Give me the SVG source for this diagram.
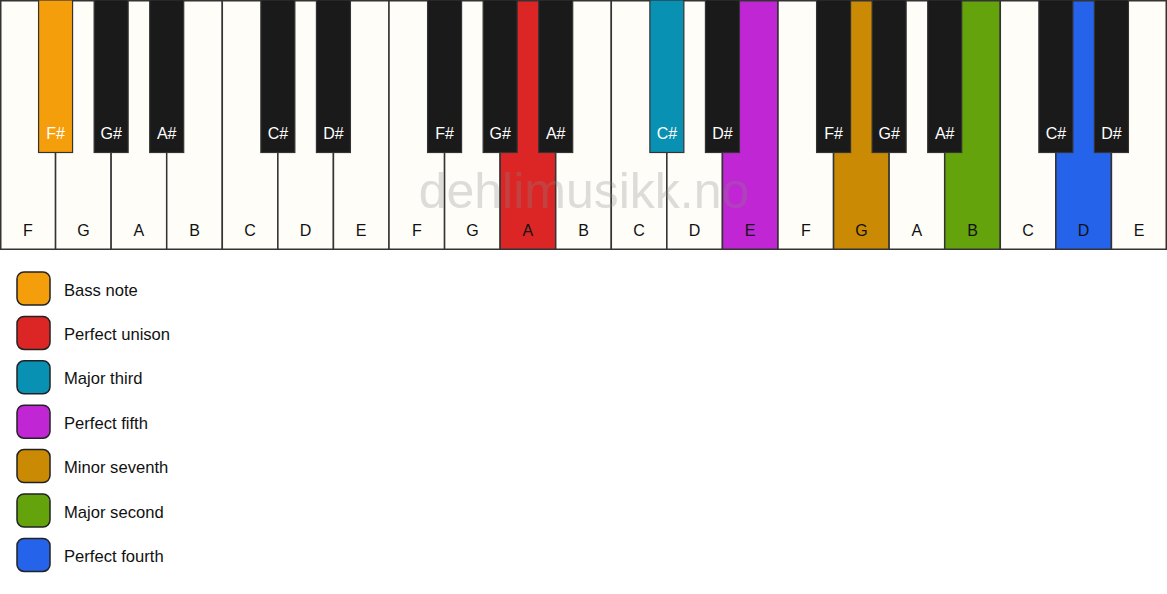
<svg xmlns="http://www.w3.org/2000/svg" width="1167" height="594" viewBox="0 0 1167 594">
<style>
.w{fill:#fffdf8;stroke:#333;stroke-width:1.5}
.b{fill:#1a1a1a;stroke:#333;stroke-width:1.2}
.wl{font-family:"Liberation Sans",Arial,sans-serif;font-size:16px;fill:#111;text-anchor:middle}
.bl{font-family:"Liberation Sans",Arial,sans-serif;font-size:16px;fill:#fff;text-anchor:middle}
.lg{stroke:#222;stroke-width:1.5}
.lt{font-family:"Liberation Sans",Arial,sans-serif;font-size:16.6px;fill:#111}
.wm{font-family:"Liberation Sans",Arial,sans-serif;font-size:50px;fill:#888;opacity:0.28;text-anchor:middle}
</style>
<rect width="1167" height="594" fill="#ffffff"/>
<g id="white-keys">
<rect class="w" x="0.75" y="0.75" width="54.82" height="248.5"/>
<rect class="w" x="55.57" y="0.75" width="55.57" height="248.5"/>
<rect class="w" x="111.14" y="0.75" width="55.57" height="248.5"/>
<rect class="w" x="166.71" y="0.75" width="55.57" height="248.5"/>
<rect class="w" x="222.29" y="0.75" width="55.57" height="248.5"/>
<rect class="w" x="277.86" y="0.75" width="55.57" height="248.5"/>
<rect class="w" x="333.43" y="0.75" width="55.57" height="248.5"/>
<rect class="w" x="389" y="0.75" width="55.57" height="248.5"/>
<rect class="w" x="444.57" y="0.75" width="55.57" height="248.5"/>
<rect class="w" x="500.14" y="0.75" width="55.57" height="248.5" style="fill:#dc2626"/>
<rect class="w" x="555.71" y="0.75" width="55.57" height="248.5"/>
<rect class="w" x="611.29" y="0.75" width="55.57" height="248.5"/>
<rect class="w" x="666.86" y="0.75" width="55.57" height="248.5"/>
<rect class="w" x="722.43" y="0.75" width="55.57" height="248.5" style="fill:#c026d3"/>
<rect class="w" x="778" y="0.75" width="55.57" height="248.5"/>
<rect class="w" x="833.57" y="0.75" width="55.57" height="248.5" style="fill:#ca8a04"/>
<rect class="w" x="889.14" y="0.75" width="55.57" height="248.5"/>
<rect class="w" x="944.71" y="0.75" width="55.57" height="248.5" style="fill:#65a30d"/>
<rect class="w" x="1000.29" y="0.75" width="55.57" height="248.5"/>
<rect class="w" x="1055.86" y="0.75" width="55.57" height="248.5" style="fill:#2563eb"/>
<rect class="w" x="1111.43" y="0.75" width="54.82" height="248.5"/>
</g>
<g id="white-labels">
<text class="wl" x="27.8" y="236">F</text>
<text class="wl" x="83.4" y="236">G</text>
<text class="wl" x="138.9" y="236">A</text>
<text class="wl" x="194.5" y="236">B</text>
<text class="wl" x="250.1" y="236">C</text>
<text class="wl" x="305.6" y="236">D</text>
<text class="wl" x="361.2" y="236">E</text>
<text class="wl" x="416.8" y="236">F</text>
<text class="wl" x="472.4" y="236">G</text>
<text class="wl" x="527.9" y="236">A</text>
<text class="wl" x="583.5" y="236">B</text>
<text class="wl" x="639.1" y="236">C</text>
<text class="wl" x="694.6" y="236">D</text>
<text class="wl" x="750.2" y="236">E</text>
<text class="wl" x="805.8" y="236">F</text>
<text class="wl" x="861.4" y="236">G</text>
<text class="wl" x="916.9" y="236">A</text>
<text class="wl" x="972.5" y="236">B</text>
<text class="wl" x="1028.1" y="236">C</text>
<text class="wl" x="1083.6" y="236">D</text>
<text class="wl" x="1139.2" y="236">E</text>
</g>
<g id="black-keys">
<rect class="b" x="38.57" y="0" width="34" height="152.5" style="fill:#f59e0b"/>
<rect class="b" x="94.14" y="0" width="34" height="152.5"/>
<rect class="b" x="149.71" y="0" width="34" height="152.5"/>
<rect class="b" x="260.86" y="0" width="34" height="152.5"/>
<rect class="b" x="316.43" y="0" width="34" height="152.5"/>
<rect class="b" x="427.57" y="0" width="34" height="152.5"/>
<rect class="b" x="483.14" y="0" width="34" height="152.5"/>
<rect class="b" x="538.71" y="0" width="34" height="152.5"/>
<rect class="b" x="649.86" y="0" width="34" height="152.5" style="fill:#0891b2"/>
<rect class="b" x="705.43" y="0" width="34" height="152.5"/>
<rect class="b" x="816.57" y="0" width="34" height="152.5"/>
<rect class="b" x="872.14" y="0" width="34" height="152.5"/>
<rect class="b" x="927.71" y="0" width="34" height="152.5"/>
<rect class="b" x="1038.86" y="0" width="34" height="152.5"/>
<rect class="b" x="1094.43" y="0" width="34" height="152.5"/>
</g>
<g id="black-labels">
<text class="bl" x="55.57" y="139">F#</text>
<text class="bl" x="111.14" y="139">G#</text>
<text class="bl" x="166.71" y="139">A#</text>
<text class="bl" x="277.86" y="139">C#</text>
<text class="bl" x="333.43" y="139">D#</text>
<text class="bl" x="444.57" y="139">F#</text>
<text class="bl" x="500.14" y="139">G#</text>
<text class="bl" x="555.71" y="139">A#</text>
<text class="bl" x="666.86" y="139">C#</text>
<text class="bl" x="722.43" y="139">D#</text>
<text class="bl" x="833.57" y="139">F#</text>
<text class="bl" x="889.14" y="139">G#</text>
<text class="bl" x="944.71" y="139">A#</text>
<text class="bl" x="1055.86" y="139">C#</text>
<text class="bl" x="1111.43" y="139">D#</text>
</g>
<text id="watermark" class="wm" x="584" y="208">dehlimusikk.no</text>
<g id="legend">
<g id="leg-bass"><rect class="lg" x="17" y="272" width="33" height="33" rx="7" fill="#f59e0b"/><text class="lt" x="64" y="295.5">Bass note</text></g>
<g id="leg-unison"><rect class="lg" x="17" y="316.4" width="33" height="33" rx="7" fill="#dc2626"/><text class="lt" x="64" y="339.9">Perfect unison</text></g>
<g id="leg-third"><rect class="lg" x="17" y="360.8" width="33" height="33" rx="7" fill="#0891b2"/><text class="lt" x="64" y="384.3">Major third</text></g>
<g id="leg-fifth"><rect class="lg" x="17" y="405.2" width="33" height="33" rx="7" fill="#c026d3"/><text class="lt" x="64" y="428.7">Perfect fifth</text></g>
<g id="leg-seventh"><rect class="lg" x="17" y="449.6" width="33" height="33" rx="7" fill="#ca8a04"/><text class="lt" x="64" y="473.1">Minor seventh</text></g>
<g id="leg-second"><rect class="lg" x="17" y="494" width="33" height="33" rx="7" fill="#65a30d"/><text class="lt" x="64" y="517.5">Major second</text></g>
<g id="leg-fourth"><rect class="lg" x="17" y="538.4" width="33" height="33" rx="7" fill="#2563eb"/><text class="lt" x="64" y="561.9">Perfect fourth</text></g>
</g>
</svg>
